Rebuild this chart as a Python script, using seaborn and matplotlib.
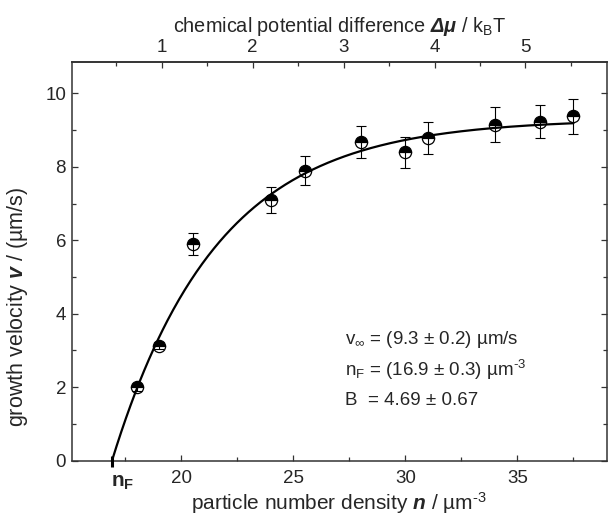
import numpy as np
import pandas as pd
import matplotlib
matplotlib.use("Agg")
import matplotlib.pyplot as plt
import seaborn as sns
from matplotlib.ticker import FixedLocator, MultipleLocator

# ---- data ----
n_density = [18.0, 19.0, 20.5, 24.0, 25.5, 28.0, 30.0, 31.0, 34.0, 36.0, 37.5]
velocity = [2.0, 3.13, 5.9, 7.09, 7.89, 8.68, 8.39, 8.79, 9.15, 9.23, 9.37]
velocity_err = [0.1, 0.1, 0.3, 0.36, 0.4, 0.44, 0.42, 0.44, 0.47, 0.46, 0.47]

# fit parameters shown in the chart
v_inf = 9.3
n_F = 16.9
B = 4.69

# top axis: chemical potential difference (linear in n)
dmu_ticks = [1, 2, 3, 4, 5]
dmu_anchor = [1.0, 5.0]
n_anchor = [19.12, 35.36]

x_ticks = [20, 25, 30, 35]
y_ticks = [0, 2, 4, 6, 8, 10]

fit_lines = [r"v$_{\infty}$ = (9.3 ± 0.2) µm/s",
             r"n$_{\mathregular{F}}$ = (16.9 ± 0.3) µm$^{\text{-3}}$",
             r"B  = 4.69 ± 0.67"]

# ---- style ----
sns.set_theme(style="ticks")
plt.rcParams["font.family"] = ["Liberation Sans", "DejaVu Sans"]
plt.rcParams["mathtext.fontset"] = "custom"
plt.rcParams["mathtext.rm"] = "Liberation Sans"
plt.rcParams["mathtext.it"] = "Liberation Sans:italic"
plt.rcParams["mathtext.bf"] = "Liberation Sans:bold"
plt.rcParams["mathtext.bfit"] = "Liberation Sans:bold:italic"

FS = 13.5
df = pd.DataFrame({"n": n_density, "v": velocity, "err": velocity_err})

n_fit = np.linspace(n_F, n_density[-1], 400)
fit_df = pd.DataFrame({"n": n_fit, "v": v_inf * (1 - np.exp(-(n_fit - n_F) / B))})

fig = plt.figure(figsize=(6.11, 5.17), dpi=100)
ax = fig.add_axes([0.1173, 0.1089, 0.8762, 0.7718])

# markers (half filled)
sns.lineplot(data=df, x="n", y="v", ax=ax, linestyle="", marker="o",
             markersize=8.8, fillstyle="top", markerfacecolor="black",
             markerfacecoloralt="white", markeredgecolor="black",
             markeredgewidth=0.9, zorder=2, estimator=None)
# error bars
ax.errorbar(df["n"], df["v"], yerr=df["err"], fmt="none", ecolor="black",
            elinewidth=0.8, capsize=3.4, capthick=0.8, zorder=3)
# fit curve
sns.lineplot(data=fit_df, x="n", y="v", ax=ax, color="black", lw=1.6,
             zorder=4, estimator=None, sort=False)

ax.set_xlim(15.1, 39.0)
ax.set_ylim(0, 10.86)
ax.xaxis.set_major_locator(FixedLocator(x_ticks))
ax.xaxis.set_minor_locator(MultipleLocator(2.5))
ax.yaxis.set_major_locator(FixedLocator(y_ticks))
ax.yaxis.set_minor_locator(MultipleLocator(1))
ax.tick_params(which="both", direction="in", right=True, top=False,
               labelsize=FS, color="#333333")
ax.tick_params(which="major", length=4, width=0.9)
ax.tick_params(which="minor", length=3, width=0.9)
ax.tick_params(axis="x", which="major", pad=7)
ax.tick_params(axis="y", which="major", pad=4)
for s in ax.spines.values():
    s.set_color("#333333")
    s.set_linewidth(1.1)

ax.set_xlabel(r"particle number density $\mathbfit{n}$ / µm$^{\text{-3}}$",
              fontsize=15, labelpad=2)
ax.set_ylabel(r"growth velocity $\mathbfit{v}$ / (µm/s)", fontsize=15.5)
ax.yaxis.set_label_coords(-0.077, 0.386)

# top axis
k = (n_anchor[1] - n_anchor[0]) / (dmu_anchor[1] - dmu_anchor[0])
n0 = n_anchor[0] - k * dmu_anchor[0]
top = ax.secondary_xaxis("top", functions=(lambda n: (n - n0) / k,
                                           lambda d: d * k + n0))
top.xaxis.set_major_locator(FixedLocator(dmu_ticks))
top.xaxis.set_minor_locator(MultipleLocator(0.5))
top.tick_params(which="both", direction="in", labelsize=FS, color="#333333")
top.tick_params(which="major", length=4, width=0.9, pad=4)
top.tick_params(which="minor", length=3, width=0.9)
top.spines["top"].set_color("#333333")
top.set_xlabel(r"chemical potential difference $\mathbfit{\Delta\mu}$ / k$_{\mathregular{B}}$T",
               fontsize=14.3, labelpad=5)

# n_F marker on the axis
ax.plot([n_F, n_F], [-0.17, 0.12], color="black", lw=2.2, clip_on=False,
        solid_capstyle="butt", zorder=5)
ax.annotate(r"$\mathbf{n}_{\mathbf{F}}$", xy=(n_F, 0), xytext=(-1, -9),
            textcoords="offset points", ha="left", va="top", fontsize=15)

# fit results
for i, t in enumerate(fit_lines):
    ax.text(27.3, 3.31 - i * 0.835, t, fontsize=FS, ha="left", va="center")

fig.savefig("out.png", dpi=100)
